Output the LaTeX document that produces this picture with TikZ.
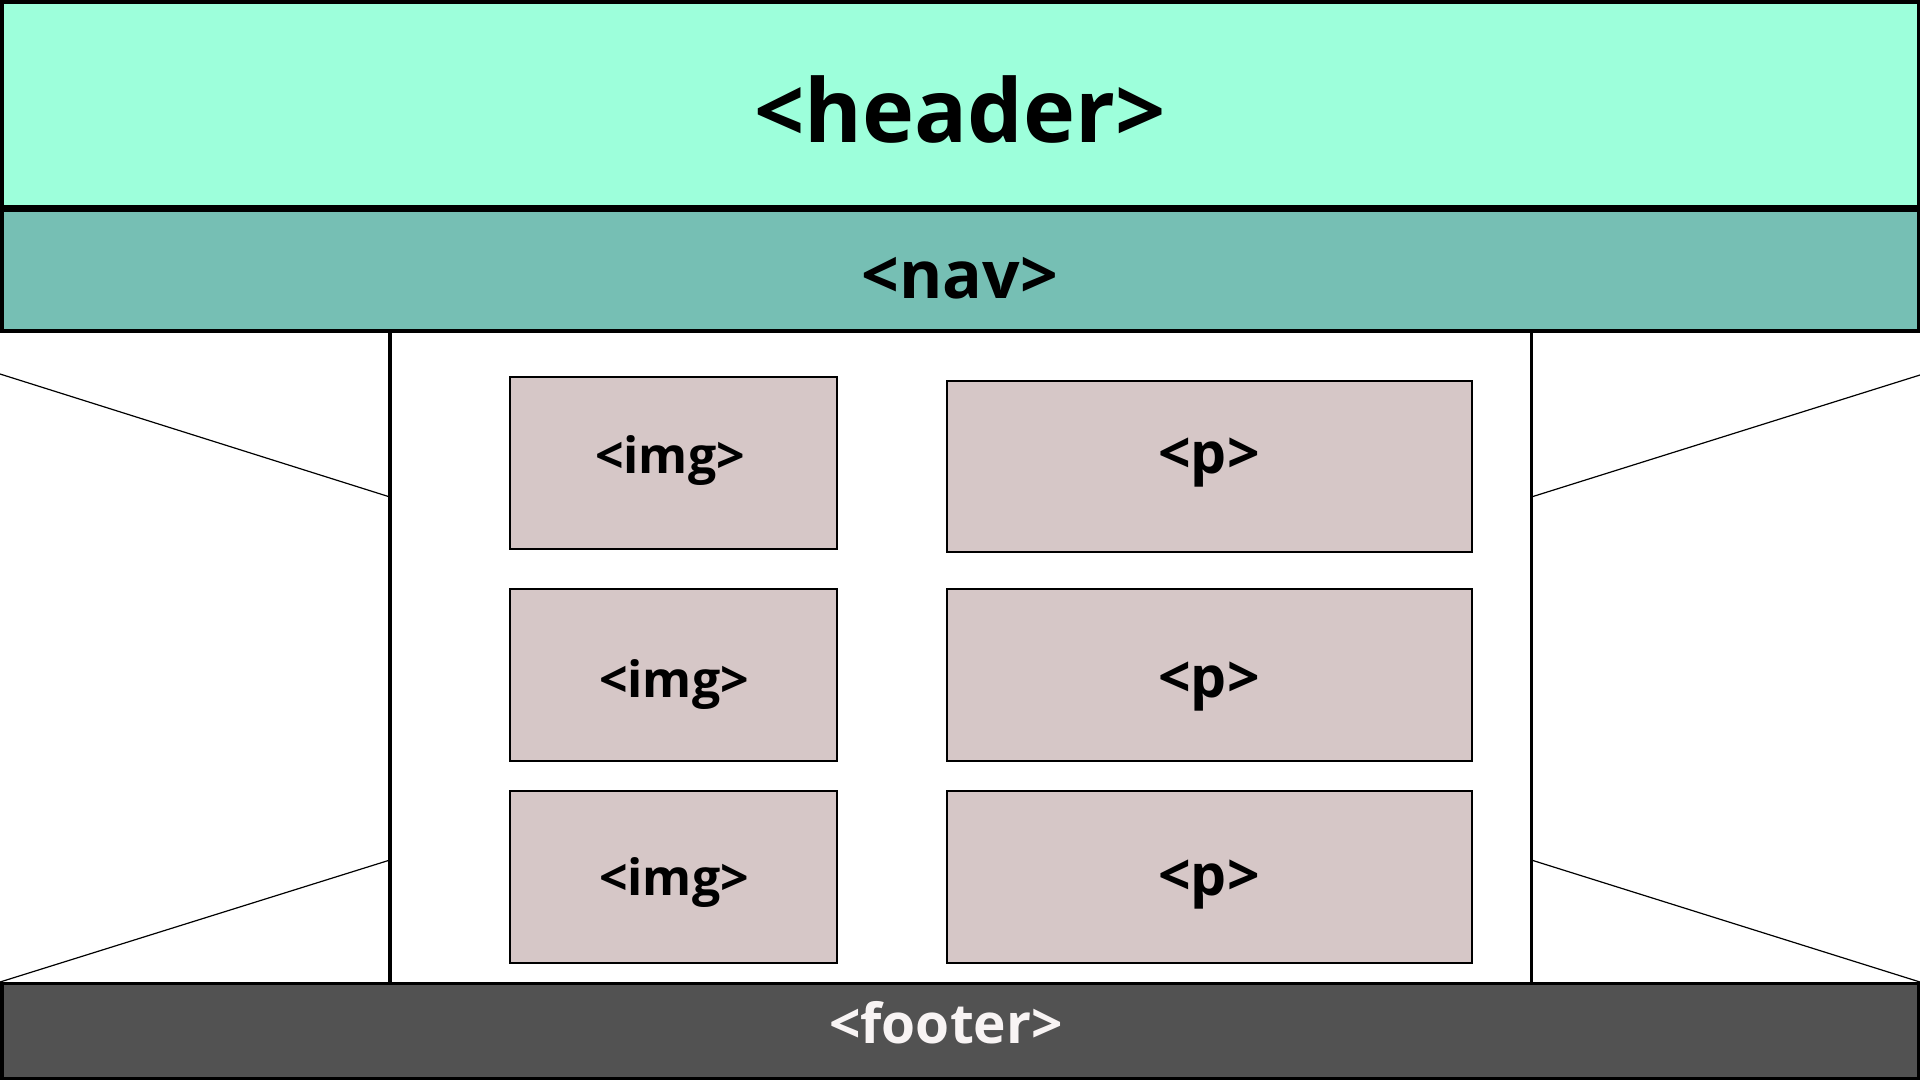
\documentclass[tikz,border=0pt]{standalone}
\usepackage{fontspec}
\setmainfont{Open Sans}
\definecolor{headerfill}{RGB}{157,255,219}
\definecolor{navfill}{RGB}{118,191,180}
\definecolor{boxfill}{RGB}{214,199,199}
\definecolor{footerfill}{RGB}{82,82,82}
\definecolor{footertext}{RGB}{248,244,244}
\begin{document}
\begin{tikzpicture}[x=1pt,y=-1pt,
  band/.style={draw=black,line width=3.5pt},
  elbox/.style={draw=black,line width=1.5pt,fill=boxfill,inner sep=0pt},
  wall/.style={draw=black,line width=3.5pt},
  diag/.style={draw=black,line width=1.2pt},
  lbl/.style={anchor=base,inner sep=0pt,font=\bfseries}]
\useasboundingbox (0,0) rectangle (1920,1080);
\fill[white] (0,0) rectangle (1920,1080);
% side diagonals
\coordinate (lu) at (0,374);
\coordinate (lua) at (390,497);
\coordinate (ll) at (0,982);
\coordinate (lla) at (390,860);
\coordinate (ru) at (1920,375);
\coordinate (rua) at (1531.3,497);
\coordinate (rl) at (1920,982);
\coordinate (rla) at (1531.3,860);
\draw[diag] (lu) -- (lua);
\draw[diag] (ll) -- (lla);
\draw[diag] (ru) -- (rua);
\draw[diag] (rl) -- (rla);
% walls
\coordinate (lwt) at (390,331);
\coordinate (lwb) at (390,983.5);
\coordinate (rwt) at (1531.3,331);
\coordinate (rwb) at (1531.3,983.5);
\draw[wall] (lwt) -- (lwb);
\draw[wall] (rwt) -- (rwb);
% bands
\path[band,fill=headerfill] (1.75,1.75) rectangle (1918.25,208.5);
\path[band,fill=navfill] (1.75,208.5) rectangle (1918.25,331);
\coordinate (sepl) at (0,208.5);
\coordinate (sepr) at (1920,208.5);
\draw[black,line width=7pt] (sepl) -- (sepr);
\path[band,fill=footerfill] (1.75,983.5) rectangle (1918.25,1078.25);
% element boxes
\node[elbox,minimum width=327pt,minimum height=172pt] (img1) at (673.5,463) {};
\node[elbox,minimum width=525pt,minimum height=171pt] (p1) at (1209.5,466.5) {};
\node[elbox,minimum width=327pt,minimum height=172pt] (img2) at (673.5,675) {};
\node[elbox,minimum width=525pt,minimum height=172pt] (p2) at (1209.5,675) {};
\node[elbox,minimum width=327pt,minimum height=172pt] (img3) at (673.5,877) {};
\node[elbox,minimum width=525pt,minimum height=172pt] (p3) at (1209.5,877) {};
% labels
\node[lbl,font=\bfseries\fontsize{88}{90}\selectfont] (theader) at (960,142) {<header>};
\node[lbl,font=\bfseries\fontsize{66}{68}\selectfont] (tnav) at (960,298) {<nav>};
\node[lbl,font=\bfseries\fontsize{50}{52}\selectfont] (timg1) at (670,473) {<img>};
\node[lbl,font=\bfseries\fontsize{57}{58}\selectfont] (tp1) at (1209,473) {<p>};
\node[lbl,font=\bfseries\fontsize{50}{52}\selectfont] (timg2) at (674,697) {<img>};
\node[lbl,font=\bfseries\fontsize{57}{58}\selectfont] (tp2) at (1209,697) {<p>};
\node[lbl,font=\bfseries\fontsize{50}{52}\selectfont] (timg3) at (674,895) {<img>};
\node[lbl,font=\bfseries\fontsize{57}{58}\selectfont] (tp3) at (1209,895) {<p>};
\node[lbl,font=\bfseries\fontsize{55}{58}\selectfont,text=footertext] (tfooter) at (946,1043) {<footer>};
\end{tikzpicture}
\end{document}
